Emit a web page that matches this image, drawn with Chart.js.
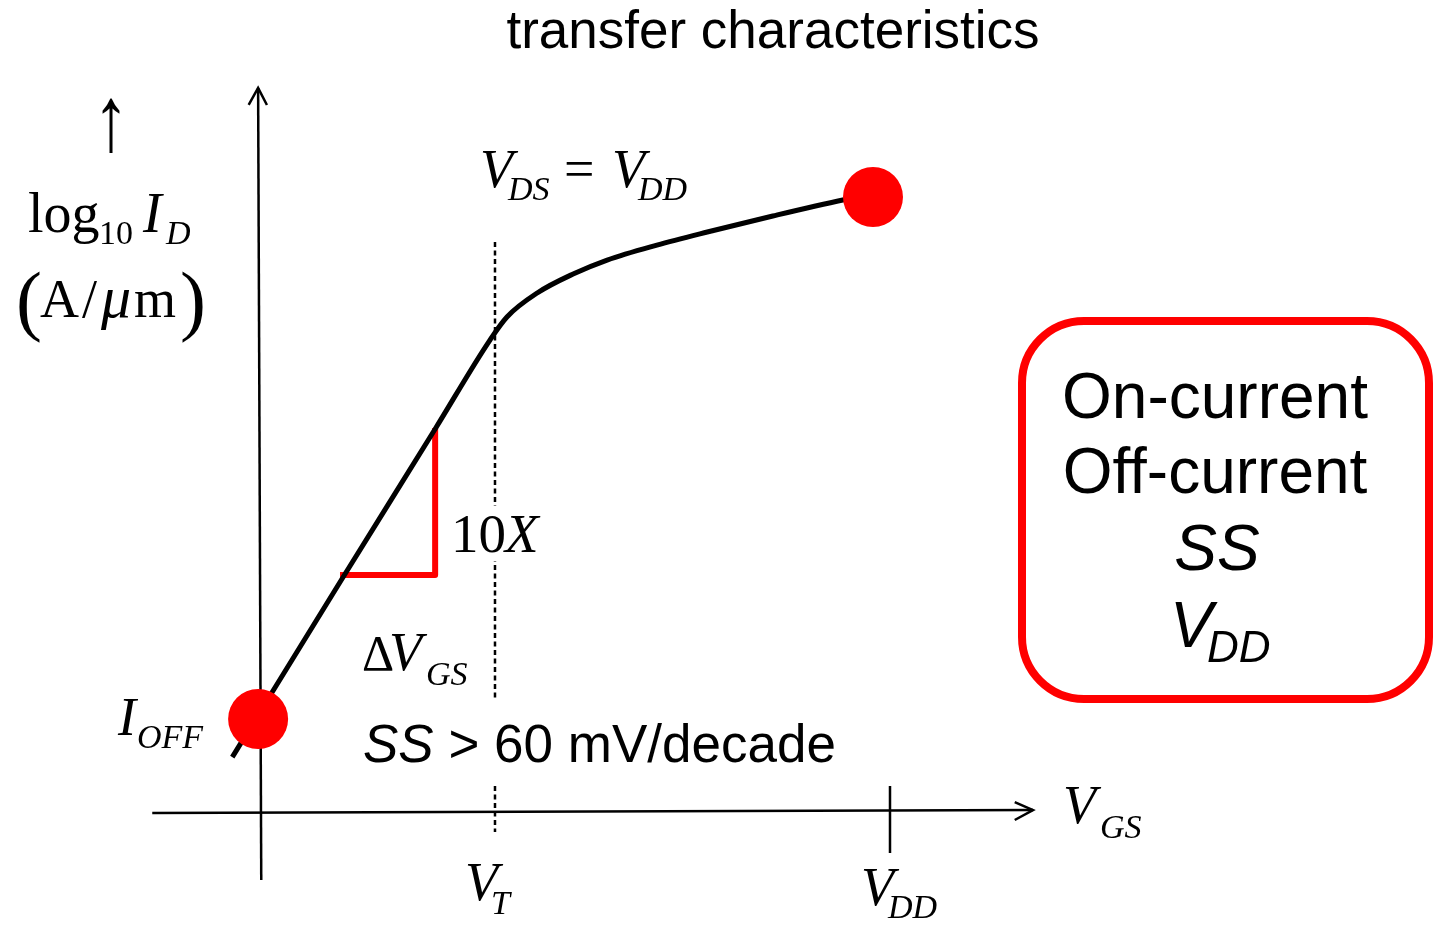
<!DOCTYPE html>
<html><head><meta charset="utf-8">
<script src="https://cdn.jsdelivr.net/npm/chart.js@4.4.1/dist/chart.umd.min.js"></script>
<style>html,body{margin:0;padding:0;background:#fff;overflow:hidden}</style>
</head><body>
<canvas id="c" width="1442" height="926"></canvas>
<script>
// ---------- data (x: V_GS normalised to V_DD = 1, y: log10 I_D in decades) ----------
const VT = 0.373;
const VDD = 1.0;
const curveVgs   = [-0.044, -0.003, 0.133, 0.278, 0.365, 0.392, 0.440, 0.497, 0.551, 0.630, 0.710, 0.814, 0.925, 0.973];
const curveLogId = [-9.259, -8.973, -8.027, -7.027, -6.422, -6.265, -6.102, -5.973, -5.878, -5.776, -5.687, -5.578, -5.469, -5.429];
const markerVgs   = [-0.003, 0.973];          // I_OFF and I_ON points
const markerLogId = [-9.000, -5.449];
const slopeVgs   = [0.127, 0.278, 0.278];     // ΔV_GS for one decade (10X)
const slopeLogId = [-8.020, -8.020, -7.020];
const xAxisVgs   = [-0.171, 1.227];
const xAxisLogId = [-9.639, -9.619];
const xArrowVgs   = [1.198, 1.227, 1.198];
const xArrowLogId = [-9.565, -9.619, -9.687];
const yAxisVgs   = [0.002, -0.003];
const yAxisLogId = [-10.095, -4.707];
const yArrowVgs   = [-0.018, -0.003, 0.011];
const yArrowLogId = [-4.823, -4.707, -4.823];
const vtLineLogId  = [-5.755, -9.769];
const vddTickLogId = [-9.456, -9.912];

const titleText = 'transfer characteristics';
const boxLines = ['On-current', 'Off-current', 'SS'];

const zip = (a, b) => a.map((v, i) => ({x: v, y: b[i]}));
const line = (data, extra) => Object.assign({type: 'scatter', data, showLine: true, pointRadius: 0,
  borderColor: '#000', borderWidth: 2.5, fill: false, clip: false}, extra);

const SERIF = '"Liberation Serif", "Times New Roman", serif';
const SANS = '"Liberation Sans", Arial, sans-serif';

function t(ctx, s, x, y, font, align) {
  ctx.font = font; ctx.textAlign = align || 'left'; ctx.textBaseline = 'alphabetic';
  ctx.fillStyle = '#000'; ctx.fillText(s, x, y);
}

const annot = {
  id: 'annot',
  afterDatasetsDraw(chart) {
    const ctx = chart.ctx;
    ctx.save();
    // gaps in the dashed V_T line behind text
    ctx.fillStyle = '#fff';
    ctx.fillRect(486, 506, 20, 55);
    ctx.fillRect(486, 701, 20, 84);
    // title
    t(ctx, titleText, 773, 48, '53px ' + SANS, 'center');
    // y label
    ctx.save();
    ctx.translate(111, 150); ctx.scale(0.9, 1.15);
    t(ctx, '\u2191', 0, 0, '80px ' + SERIF, 'center');
    ctx.restore();
    t(ctx, 'log', 28, 232, '56px ' + SERIF);
    t(ctx, '10', 99, 244, '34px ' + SERIF);
    t(ctx, 'I', 143, 232, 'italic 56px ' + SERIF);
    t(ctx, 'D', 166, 244, 'italic 34px ' + SERIF);
    t(ctx, '(', 16, 326, '78px ' + SERIF);
    t(ctx, 'A', 40, 317, '54px ' + SERIF);
    t(ctx, '/', 82, 317, '54px ' + SERIF);
    t(ctx, '\u03bc', 101, 317, 'italic 60px ' + SERIF);
    t(ctx, 'm', 134, 317, '54px ' + SERIF);
    t(ctx, ')', 180, 326, '78px ' + SERIF);
    // V_DS = V_DD
    t(ctx, 'V', 480, 187, 'italic 54px ' + SERIF);
    t(ctx, 'DS', 508, 200, 'italic 34px ' + SERIF);
    t(ctx, '=', 564, 187, '54px ' + SERIF);
    t(ctx, 'V', 612, 187, 'italic 54px ' + SERIF);
    t(ctx, 'DD', 638, 200, 'italic 34px ' + SERIF);
    // 10X
    t(ctx, '10', 451, 552, '55px ' + SERIF);
    t(ctx, 'X', 505, 552, 'italic 55px ' + SERIF);
    // ΔV_GS
    t(ctx, '\u0394', 362, 670, '50px ' + SERIF);
    t(ctx, 'V', 389, 670, 'italic 54px ' + SERIF);
    t(ctx, 'GS', 426, 685, 'italic 34px ' + SERIF);
    // I_OFF
    t(ctx, 'I', 118, 735, 'italic 54px ' + SERIF);
    t(ctx, 'OFF', 137, 748, 'italic 34px ' + SERIF);
    // SS > 60 mV/decade
    ctx.font = 'italic 53px ' + SANS;
    const wSS = ctx.measureText('SS').width;
    t(ctx, 'SS', 363, 762, 'italic 53px ' + SANS);
    t(ctx, ' > 60 mV/decade', 363 + wSS, 762, '53px ' + SANS);
    // axis labels
    t(ctx, 'V', 465, 900, 'italic 54px ' + SERIF);
    t(ctx, 'T', 491, 914, 'italic 34px ' + SERIF);
    t(ctx, 'V', 861, 905, 'italic 54px ' + SERIF);
    t(ctx, 'DD', 888, 918, 'italic 34px ' + SERIF);
    t(ctx, 'V', 1063, 823, 'italic 54px ' + SERIF);
    t(ctx, 'GS', 1100, 838, 'italic 34px ' + SERIF);
    // red box
    ctx.strokeStyle = '#ff0000'; ctx.lineWidth = 8;
    ctx.beginPath(); ctx.roundRect(1022, 321, 407, 378, 62); ctx.stroke();
    t(ctx, boxLines[0], 1215, 418, '64px ' + SANS, 'center');
    t(ctx, boxLines[1], 1215, 493, '64px ' + SANS, 'center');
    t(ctx, boxLines[2], 1217, 570, 'italic 64px ' + SANS, 'center');
    t(ctx, 'V', 1170, 647, 'italic 64px ' + SANS);
    t(ctx, 'DD', 1207, 662, 'italic 44px ' + SANS);
    ctx.restore();
  }
};

new Chart(document.getElementById('c'), {
  data: {
    datasets: [
      {type: 'scatter', data: zip(markerVgs, markerLogId), pointRadius: 30, pointHoverRadius: 30,
       backgroundColor: '#ff0000', borderWidth: 0, showLine: false, order: 0, clip: false},
      line(zip(curveVgs, curveLogId), {borderWidth: 5, cubicInterpolationMode: 'monotone', order: 1}),
      line(zip(slopeVgs, slopeLogId), {borderColor: '#ff0000', borderWidth: 6, borderJoinStyle: 'round', order: 2}),
      line(zip([VT, VT], vtLineLogId), {borderWidth: 2.5, borderDash: [5, 3.5], order: 3}),
      line(zip([VDD, VDD], vddTickLogId), {order: 3}),
      line(zip(xAxisVgs, xAxisLogId), {order: 3}),
      line(zip(xArrowVgs, xArrowLogId), {order: 3}),
      line(zip(yAxisVgs, yAxisLogId), {order: 3}),
      line(zip(yArrowVgs, yArrowLogId), {order: 3})
    ]
  },
  options: {
    responsive: false, animation: false, devicePixelRatio: 1,
    layout: {padding: 0, autoPadding: false},
    events: [],
    plugins: {legend: {display: false}, tooltip: {enabled: false}},
    scales: {
      x: {type: 'linear', display: false, min: -0.4127, max: 1.8762},
      y: {type: 'linear', display: false, min: -10.408, max: -4.109}
    }
  },
  plugins: [annot]
});
</script>
</body></html>
